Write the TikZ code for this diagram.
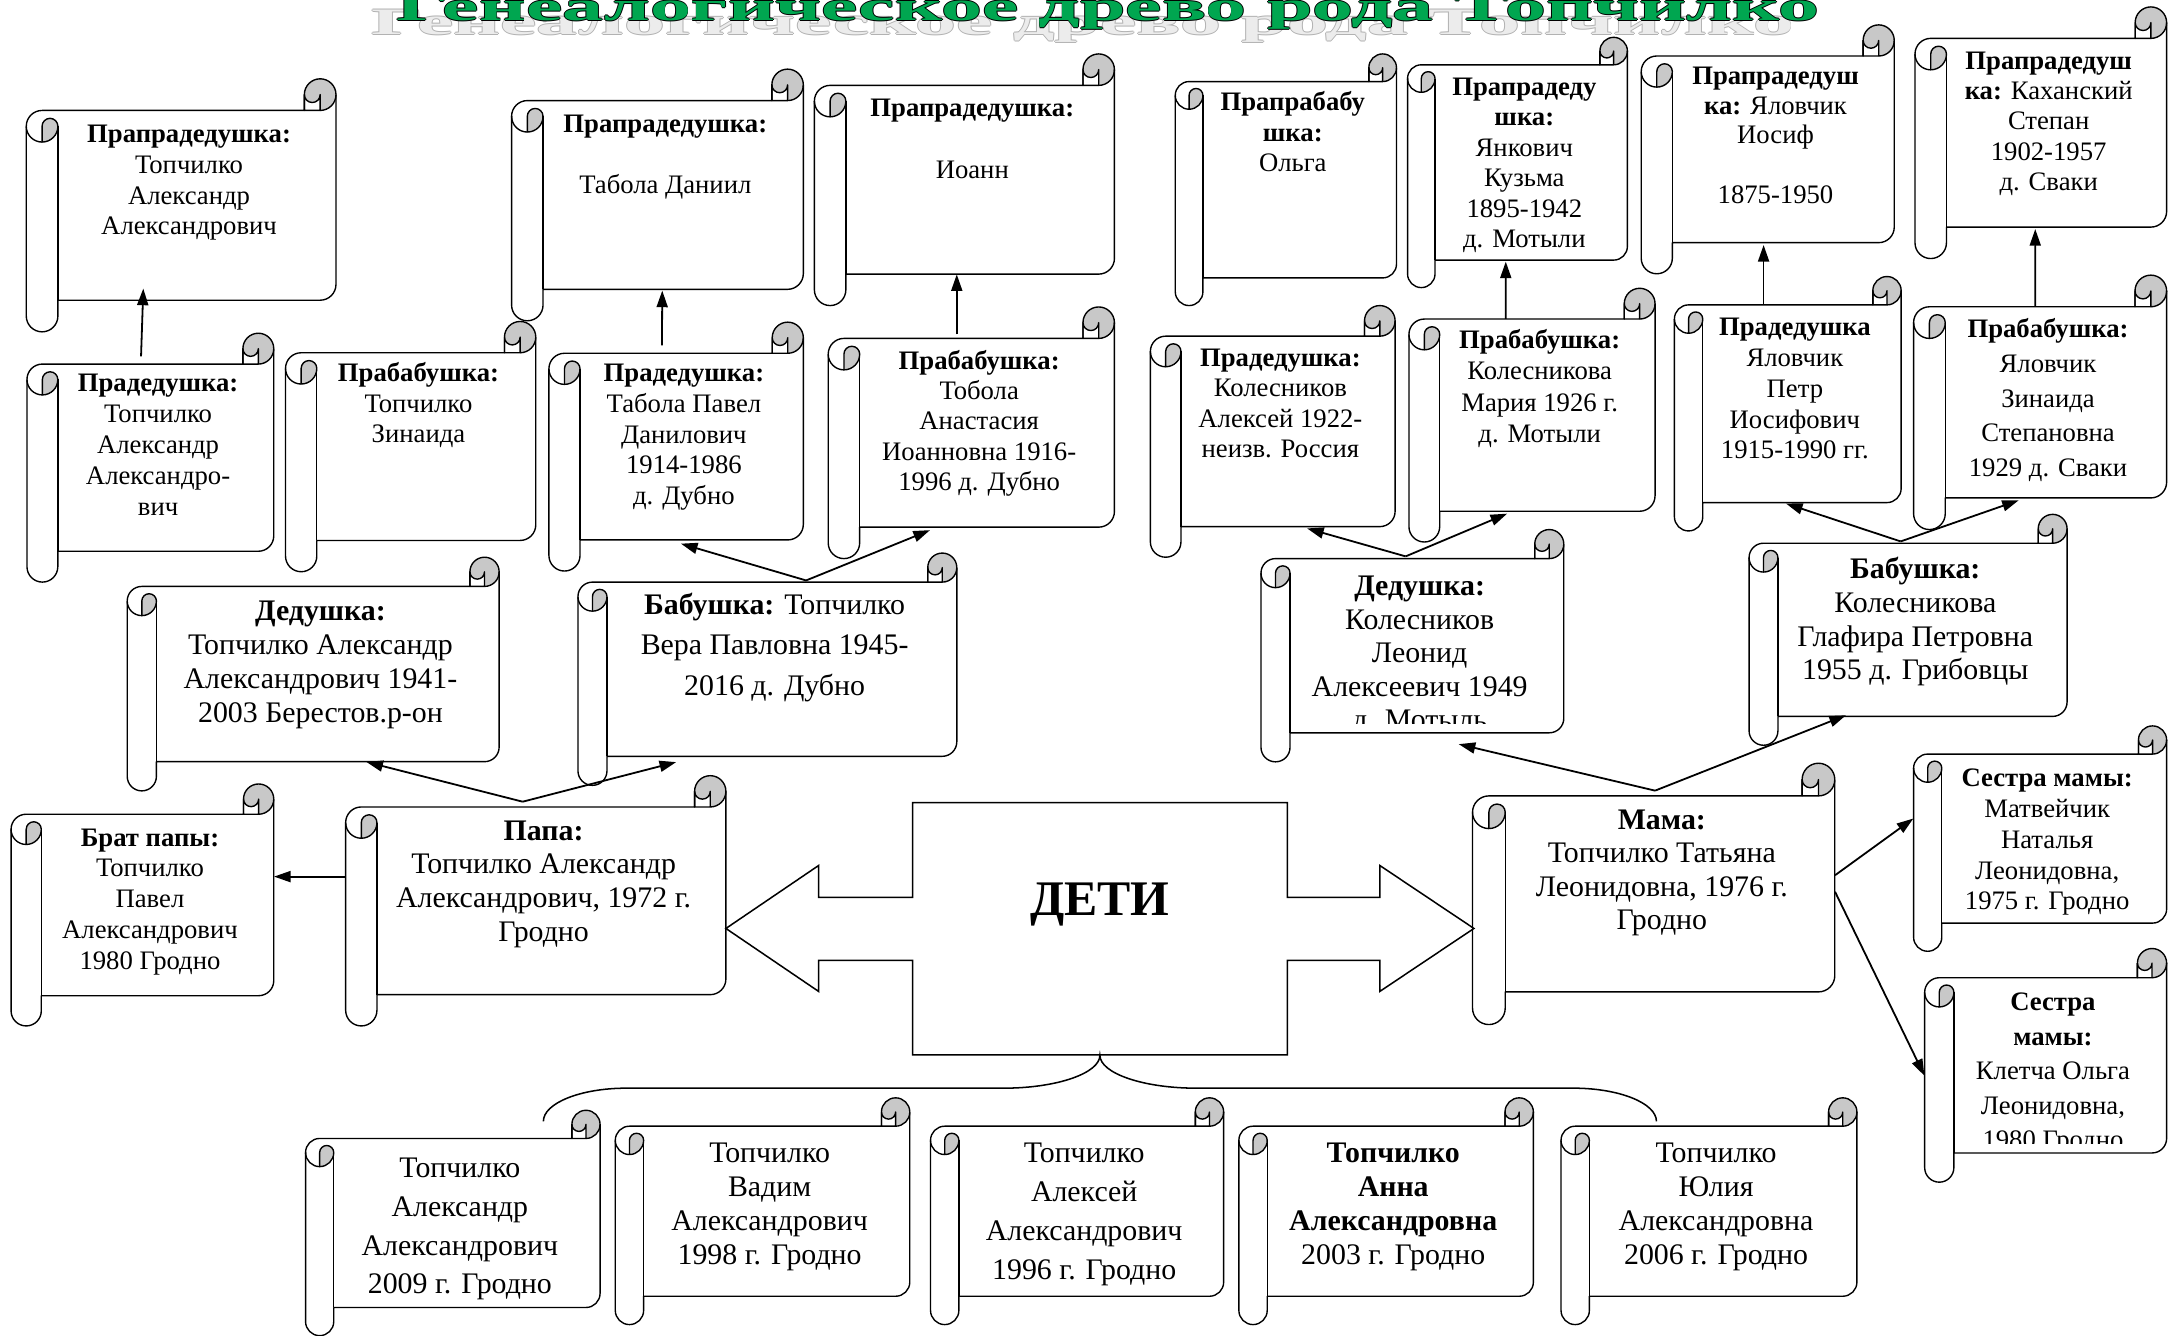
\documentclass[tikz,border=0pt]{standalone}
\usepackage{fontspec}
\setmainfont{Liberation Serif}
\usepackage{graphicx}
\usetikzlibrary{arrows.meta,calc}
\definecolor{titlegreen}{RGB}{0,166,80}
\definecolor{curlgray}{RGB}{200,200,200}
\tikzset{
  scrline/.style={line width=1pt, line join=round},
  arr/.style={line width=1.3pt, -{Triangle[length=12pt,width=8pt]}},
}
\def\zcm{0}
% #1 name, #2 L, #3 T, #4 R, #5 B, #6 first line centre y, #7 font size, #8 baselineskip, #9 text
\newcommand\scrollbox[9]{%
  \pgfmathsetmacro\zL{#2}\pgfmathsetmacro\zT{#3}\pgfmathsetmacro\zR{#4}\pgfmathsetmacro\zB{#5}%
  \pgfmathsetmacro\zC{0.125*min(\zR-\zL,\zB-\zT)}%
  \pgfmathsetmacro\zH{\zC/2}\pgfmathsetmacro\zQ{\zC/4}%
  \pgfmathsetmacro\zXa{\zR-\zC}\pgfmathsetmacro\zXb{\zR-\zH}%
  \pgfmathsetmacro\zBT{\zT+\zC}\pgfmathsetmacro\zBB{\zB-\zC}%
  \pgfmathsetmacro\zW{\zR-\zL-\zC}\pgfmathsetmacro\zHt{\zBB-\zBT}%
  \fill[white] (\zL+\zH,\zBT) -- (\zXa,\zBT) -- (\zXa,\zT+\zH) arc[start angle=180,end angle=360,radius=\zH]
     -- (\zR,\zBB-\zH) arc[start angle=0,end angle=90,radius=\zH] -- (\zL+\zC,\zBB) -- (\zL+\zC,\zB-\zH)
     arc[start angle=0,end angle=180,radius=\zH] -- (\zL,\zBT+\zH) arc[start angle=180,end angle=270,radius=\zH] -- cycle;
  \fill[curlgray] (\zXb,\zT+\zH) circle[radius=\zH];
  \filldraw[scrline,fill=curlgray] (\zL+\zH,\zT+3*\zH) arc[start angle=180,end angle=360,radius=\zQ]
     arc[start angle=0,end angle=90,radius=\zH] -- cycle;
  \filldraw[scrline,fill=white] (\zXa,\zT+\zH) -- (\zXa,\zBT) -- (\zXb,\zBT) -- (\zXb,\zT+\zH)
     arc[start angle=0,end angle=180,radius=\zQ] -- cycle;
  \draw[scrline] (\zL+\zH,\zBT) -- (\zXa,\zBT) -- (\zXa,\zT+\zH) arc[start angle=180,end angle=360,radius=\zH]
     -- (\zR,\zBB-\zH) arc[start angle=0,end angle=90,radius=\zH] -- (\zL+\zC,\zBB) -- (\zL+\zC,\zB-\zH)
     arc[start angle=0,end angle=180,radius=\zH] -- (\zL,\zBT+\zH) arc[start angle=180,end angle=270,radius=\zH];
  \draw[scrline] (\zL+\zC,\zT+3*\zH) -- (\zL+\zC,\zBB);
  \draw[scrline] (\zL,\zT+3*\zH) arc[start angle=180,end angle=90,radius=\zH];
  \draw[scrline] (\zR,\zT+\zH) arc[start angle=0,end angle=90,radius=\zH];
  \node[inner sep=0, minimum width=\zW pt, minimum height=\zHt pt] (#1) at ({(\zL+\zC+\zR)/2},{(\zBT+\zBB)/2}) {};
  \begin{scope}
    \clip (\zL,\zT) rectangle (\zR,\zBB-\zcm);
    \node[inner sep=0, anchor=north, align=center, font=\fontsize{#7}{#8}\selectfont]
      (#1-t) at ({(\zL+\zC+\zXb)/2},{#6+0.3*#7-0.7*#8}) {\strut #9};
  \end{scope}
}
\newcommand\ttl{Генеалогическое древо рода Топчилко}
\newcommand\outlined[3]{\leavevmode\rlap{\color{#1}\kern-.35pt #3}\rlap{\color{#1}\kern.35pt #3}%
  \rlap{\color{#1}\raisebox{.7pt}{#3}}\rlap{\color{#1}\raisebox{-.7pt}{#3}}{\color{#2}#3}}

\begin{document}
\begin{tikzpicture}[x=1pt,y=-1pt]
\useasboundingbox (0,0) rectangle (1568,966);
\clip (0,0) rectangle (1568,966);
\fill[white] (0,0) rectangle (1568,966);

% title with shadow
\node[inner sep=0, anchor=base, font=\fontsize{30}{36}\selectfont\bfseries] (titleshadow) at (783,25)
  {\resizebox{1029pt}{0.9\height}{\outlined{gray!60}{gray!15}{\ttl}}};
\node[inner sep=0, anchor=base, font=\fontsize{30}{36}\selectfont\bfseries] (title) at (801.5,15)
  {\resizebox{1029pt}{\height}{\outlined{black}{titlegreen}{\ttl}}};

% great-great-grandparents
\scrollbox{a1}{19}{57}{243}{240}{97}{19.3}{22.3}{\textbf{Прапрадедушка:}\\Топчилко\\Александр\\Александрович}
\scrollbox{a2}{370}{50}{581}{232}{90}{19.3}{22}{\textbf{Прапрадедушка:}\\\strut\\Табола Даниил}
\scrollbox{a3}{589}{39}{806}{221}{78}{19.3}{22.5}{\textbf{Прапрадедушка:}\\\strut\\Иоанн}
\scrollbox{a4}{850}{39}{1010}{221}{74}{19.3}{22}{\textbf{Прапрабабу}\\\textbf{шка:}\\Ольга}
\scrollbox{a5}{1018}{27}{1177}{208}{63}{19.3}{22}{\textbf{Прапрадеду}\\\textbf{шка:}\\Янкович\\Кузьма\\1895-1942\\д. Мотыли}
\scrollbox{a6}{1187}{18}{1370}{198}{55}{19.3}{21.5}{\textbf{Прапрадедуш}\\\textbf{ка:} Яловчик\\Иосиф\\\strut\\1875-1950}
\scrollbox{a7}{1385}{5}{1567}{187}{44}{19.3}{22}{\textbf{Прапрадедуш}\\\textbf{ка:} Каханский\\Степан\\1902-1957\\д. Сваки}

% great-grandparents
\scrollbox{b1}{19.5}{241}{198}{421}{277}{19.3}{22.5}{\textbf{Прадедушка:}\\Топчилко\\Александр\\Александро-\\вич}
\scrollbox{b2}{206.5}{232.5}{387.5}{413.5}{270}{19.3}{22}{\textbf{Прабабушка:}\\Топчилко\\Зинаида}
\scrollbox{b3}{397}{233}{581}{413}{270}{19.3}{22.25}{\textbf{Прадедушка:}\\Табола Павел\\Данилович\\1914-1986\\д. Дубно}
\scrollbox{b4}{599}{222}{806}{404}{261}{19.3}{22}{\textbf{Прабабушка:}\\Тобола\\Анастасия\\Иоанновна 1916-\\1996 д. Дубно}
\scrollbox{b5}{832}{221}{1009}{403}{259}{19.3}{22}{\textbf{Прадедушка:}\\Колесников\\Алексей 1922-\\неизв. Россия}
\scrollbox{b6}{1019}{208.5}{1197}{392}{246}{19.3}{22.7}{\textbf{Прабабушка:}\\Колесникова\\Мария 1926 г.\\д. Мотыли}
\scrollbox{b7}{1211}{200}{1375}{384}{237}{19.3}{22.2}{\textbf{Прадедушка}\\Яловчик\\Петр\\Иосифович\\1915-1990 гг.}
\scrollbox{b8}{1384}{199}{1567}{383}{238}{19.3}{25.2}{\textbf{Прабабушка:}\\Яловчик\\Зинаида\\Степановна\\1929 д. Сваки}

% grandparents
\scrollbox{c1}{92}{403}{361}{572}{442}{21.6}{24.7}{\textbf{Дедушка:}\\Топчилко Александр\\Александрович 1941-\\2003 Берестов.р-он}
\scrollbox{c2}{418}{400}{692}{568}{438}{21.6}{29}{\textbf{Бабушка:} Топчилко\\Вера Павловна 1945-\\2016 д. Дубно}
\def\zcm{7}
\scrollbox{c3}{912}{383}{1131}{551}{424}{21.6}{24.3}{\textbf{Дедушка:}\\Колесников\\Леонид\\Алексеевич 1949\\д. Мотыль}
\def\zcm{0}
\scrollbox{c4}{1265}{372}{1495}{539}{412}{21.6}{24.3}{\textbf{Бабушка:}\\Колесникова\\Глафира Петровна\\1955 д. Грибовцы}

% parents generation
\scrollbox{d1}{8}{567}{198}{742}{606}{19.3}{22.25}{\textbf{Брат папы:}\\Топчилко\\Павел\\Александрович\\1980 Гродно}
\scrollbox{d2}{250}{561}{525}{742}{601}{21.6}{24.3}{\textbf{Папа:}\\Топчилко Александр\\Александрович, 1972 г.\\Гродно}
\scrollbox{d3}{1065}{552}{1327}{741}{593}{21.6}{24.3}{\textbf{Мама:}\\Топчилко Татьяна\\Леонидовна, 1976 г.\\Гродно}
\scrollbox{d4}{1384}{525}{1567}{688}{563}{19.3}{22.25}{\textbf{Сестра мамы:}\\Матвейчик\\Наталья\\Леонидовна,\\1975 г. Гродно}
\def\zcm{7}
\scrollbox{d5}{1392}{686}{1567}{855}{725}{19.3}{25}{\textbf{Сестра}\\\textbf{мамы:}\\Клетча Ольга\\Леонидовна,\\1980 Гродно}
\def\zcm{0}

% children
\scrollbox{e1}{221}{803}{434}{966}{845}{21.6}{28}{Топчилко\\Александр\\Александрович\\2009 г. Гродно}
\scrollbox{e2}{445}{794}{658}{958}{834}{21.6}{24.7}{Топчилко\\Вадим\\Александрович\\1998 г. Гродно}
\scrollbox{e3}{673}{794}{885}{958}{834}{21.6}{28.3}{Топчилко\\Алексей\\Александрович\\1996 г. Гродно}
\scrollbox{e4}{896}{794}{1109}{958}{834}{21.6}{24.7}{\textbf{Топчилко}\\\textbf{Анна}\\\textbf{Александровна}\\2003 г. Гродно}
\scrollbox{e5}{1129}{794}{1343}{958}{834}{21.6}{24.7}{Топчилко\\Юлия\\Александровна\\2006 г. Гродно}

% central double arrow
\draw[line width=1.1pt, fill=white, line join=miter] (525,671.5) -- (592,626) -- (592,649) -- (660,649) -- (660,580.5)
  -- (931,580.5) -- (931,649) -- (998,649) -- (998,626) -- (1066,671.5) -- (998,717) -- (998,694.5)
  -- (931,694.5) -- (931,763) -- (660,763) -- (660,694.5) -- (592,694.5) -- (592,717) -- cycle;
\node[inner sep=0, minimum width=271pt, minimum height=182.5pt] (kids) at (795.5,671.75) {};
\node[inner sep=0, anchor=base, font=\fontsize{36}{40}\selectfont\bfseries] (deti) at (795.5,662) {ДЕТИ};

% brace to children
\coordinate (braceL) at (393,811);
\coordinate (braceR) at (1198,811);
\draw[line width=1.1pt] (braceL) .. controls (393,797.8) and (420,787) .. (453,787) -- (726,787)
  .. controls (764.2,787) and (795.5,776.2) .. (kids.south)
  .. controls (795.5,776.2) and (826.8,787) .. (865,787) -- (1138,787)
  .. controls (1171,787) and (1198,797.8) .. (braceR);

% connectors
\draw[arr] ([shift={(-17.9,-5.3)}]b1.north) -- ([shift={(-38.8,-8.6)}]a1.south);
\draw[arr] ([shift={(-21.5,-5.5)}]b3.north) -- ([shift={(-7.9,0.75)}]a2.south);
\draw[arr] ([shift={(-21.9,-2.75)}]b4.north) -- ([shift={(-16.9,0)}]a3.south);
\draw[arr] ([shift={(-30.1,0)}]b6.north) -- ([shift={(-18.4,0.9)}]a5.south);
\draw[arr] ([shift={(-27.75,0)}]b7.north) -- ([shift={(-14.25,1.5)}]a6.south);
\draw[arr] ([shift={(-14.9,0)}]b8.north) -- ([shift={(-15.4,1.25)}]a7.south);

\draw[arr] ([shift={(17.5,-1)}]c2.north) -- ([shift={(-7.75,2.5)}]b3.south);
\draw[arr] ([shift={(17.5,-1)}]c2.north) -- ([shift={(-41.3,2)}]b4.south);

\draw[arr] ([shift={(-20.8,-3.6)}]d2.north) -- ([shift={(27.9,0)}]c1.south);
\draw[arr] ([shift={(-20.8,-3.6)}]d2.north) -- ([shift={(-76.5,4)}]c2.south);
\draw[arr] ([shift={(-22.6,-17.5)}]d2.west) -- ([shift={(0,-20.5)}]d1.east);

\draw[arr] ([shift={(-15.4,-1.4)}]c3.north) -- ([shift={(13.8,1.1)}]b5.south);
\draw[arr] ([shift={(-15.4,-1.4)}]c3.north) -- ([shift={(-29.1,1.55)}]b6.south);
\draw[arr] ([shift={(-15.8,-1.1)}]c4.north) -- ([shift={(-11.55,0.5)}]b7.south);
\draw[arr] ([shift={(-15.8,-1.1)}]c4.north) -- ([shift={(-26.9,1.5)}]b8.south);

\draw[arr] ([shift={(-10.8,-3.6)}]d3.north) -- ([shift={(23,8)}]c3.south);
\draw[arr] ([shift={(-10.8,-3.6)}]d3.north) -- ([shift={(-55.4,-1)}]c4.south);
\draw[arr] ([shift={(0,-13.5)}]d3.east) -- ([shift={(-20.4,-14.5)}]d4.west);
\draw[arr] ([shift={(0,-1.5)}]d3.east) -- ([shift={(-21.1,7.5)}]d5.west);
\end{tikzpicture}
\end{document}
